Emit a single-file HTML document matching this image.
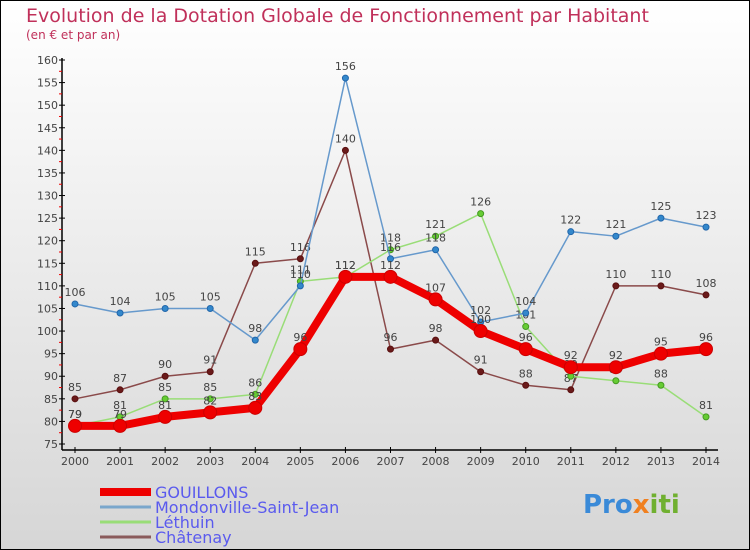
<!DOCTYPE html>
<html><head><meta charset="utf-8"><style>
body{margin:0}
svg{display:block;font-family:"DejaVu Sans","Liberation Sans",sans-serif}
</style></head><body>
<svg id="c" width="750" height="550" viewBox="0 0 750 550">
<defs><linearGradient id="bg" x1="0" y1="0" x2="0" y2="1"><stop offset="0" stop-color="#ffffff"/><stop offset="1" stop-color="#d6d6d6"/></linearGradient></defs>
<rect x="0.5" y="0.5" width="749" height="549" fill="url(#bg)" stroke="#000"/>
<text x="26" y="22" font-size="19" fill="#c0305a">Evolution de la Dotation Globale de Fonctionnement par Habitant</text>
<text x="26" y="39" font-size="12" fill="#c0305a">(en € et par an)</text>
<g id="axes"></g><g id="series"></g><g id="legend"></g>
<text x="583" y="513" font-size="26" font-weight="bold" fill="#3a8ad8">Pro<tspan fill="#f08020">x</tspan><tspan fill="#70b030">iti</tspan></text>
</svg>
<script>
const years=[2000,2001,2002,2003,2004,2005,2006,2007,2008,2009,2010,2011,2012,2013,2014];
const yTicks=[75,80,85,90,95,100,105,110,115,120,125,130,135,140,145,150,155,160];
const gouillons=[79,79,81,82,83,96,112,112,107,100,96,92,92,95,96];
const mondonville=[106,104,105,105,98,110,156,116,118,102,104,122,121,125,123];
const lethuin=[79,81,85,85,86,111,112,118,121,126,101,90,89,88,81];
const chatenay=[85,87,90,91,115,116,140,96,98,91,88,87,110,110,108];
const NS="http://www.w3.org/2000/svg";
const xs=i=>75+i*(706-75)/(years.length-1);
const ys=v=>444-(v-75)*(444-60)/85;
function mk(t,a,p){const e=document.createElementNS(NS,t);for(const k in a)e.setAttribute(k,a[k]);p.appendChild(e);return e;}
const ax=document.getElementById('axes');
let l=mk('line',{x1:62,y1:58,x2:62,y2:450,stroke:'#000','stroke-width':1.5},ax);


l=mk('line',{x1:62,y1:450,x2:718,y2:450,stroke:'#000','stroke-width':1.5},ax);


yTicks.forEach((v,i)=>{const y=ys(v);
 mk('line',{x1:59,y1:y,x2:65,y2:y,stroke:'#000'},ax);
 if(i<yTicks.length-1)mk('line',{x1:59,y1:ys(v+2.5),x2:62,y2:ys(v+2.5),stroke:'#e00'},ax);
 const t=mk('text',{x:58,y:y+4,'font-size':11,fill:'#444','text-anchor':'end'},ax);t.textContent=v;
 
 });
years.forEach((yr,i)=>{const x=xs(i);
 mk('line',{x1:x,y1:447,x2:x,y2:453,stroke:'#000'},ax);
 const t=mk('text',{x:x,y:465,'font-size':11,fill:'#444','text-anchor':'middle'},ax);t.textContent=yr;
 
 });
const sg=document.getElementById('series');
function series(name,vals,color,dot,w,r,stroke){
 const g=mk('g',{},sg);
 
 
 const p=mk('polyline',{points:vals.map((v,i)=>xs(i)+','+ys(v)).join(' '),fill:'none',stroke:color,'stroke-width':w,'stroke-linejoin':'round'},g);
 
 
 vals.forEach((v,i)=>{const c=mk('circle',{cx:xs(i),cy:ys(v),r:r,fill:dot,stroke:stroke,'stroke-width':1},g);
  
  
  const t=mk('text',{x:xs(i),y:ys(v)-8,'font-size':11,fill:'#444','text-anchor':'middle'},g);t.textContent=v;
  
  });
}
series('chatenay',chatenay,'#8a4a4a','#6a1a1a',1.5,3,'#5a1010');
series('lethuin',lethuin,'#99dd77','#66cc33',1.5,3,'#449922');
series('mondonville',mondonville,'#6699cc','#3388cc',1.5,3,'#2266aa');
series('gouillons',gouillons,'#ee0000','#ee0000',8,6.5,'#cc0000');
const lg=document.getElementById('legend');
const names=['GOUILLONS','Mondonville-Saint-Jean','Léthuin','Châtenay'];
const cols=['#ee0000','#7aa7cc','#99dd77','#8a5a5a'];
const widths=[8,3,3,3];
names.forEach((n,i)=>{const y=492+i*15;
 const g=mk('g',{},lg);
 
 
 mk('line',{x1:100,y1:y,x2:151,y2:y,stroke:cols[i],'stroke-width':widths[i]},g);
 const t=mk('text',{x:155,y:y+6,'font-size':16,fill:'#5a5aee'},g);t.textContent=n;});
</script>
</body></html>
